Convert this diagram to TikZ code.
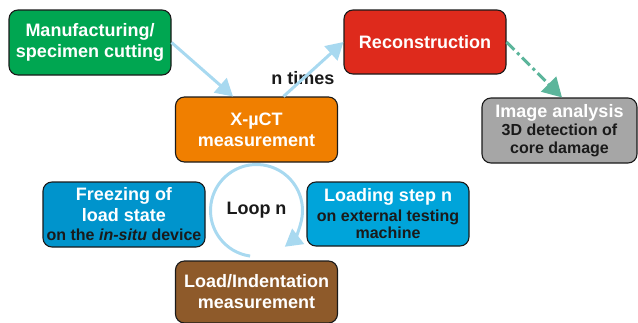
\documentclass[tikz,border=0pt]{standalone}
\usepackage{fontspec}
\setmainfont{Liberation Sans}
\usetikzlibrary{arrows.meta,calc}
\definecolor{cgreen}{RGB}{0,166,81}
\definecolor{cred}{RGB}{222,42,28}
\definecolor{corange}{RGB}{240,127,0}
\definecolor{cgray}{RGB}{166,166,166}
\definecolor{cblueA}{RGB}{0,148,204}
\definecolor{cblueB}{RGB}{0,164,218}
\definecolor{cbrown}{RGB}{142,90,42}
\definecolor{lblue}{RGB}{168,217,240}
\definecolor{cteal}{RGB}{92,181,155}
\definecolor{ink}{RGB}{26,26,26}
\newcommand\subtxt[1]{{\color{ink}#1}}
\tikzset{
  box/.style={draw=ink, line width=1.1pt, rounded corners=9pt, minimum width=162pt,
    minimum height=65pt, inner sep=0pt, align=center, text=white,
    font=\bfseries\fontsize{18}{21}\selectfont},
  flow/.style={draw=lblue, line width=3pt, -{Triangle[length=17pt,width=19pt]}},
  dashflow/.style={draw=cteal, line width=3pt, dash pattern=on 11pt off 4pt on 3pt off 4pt,
    -{Triangle[length=19pt,width=21pt]}},
  lbl/.style={text=ink, font=\bfseries\fontsize{18}{21}\selectfont, inner sep=0pt}
}
\begin{document}
\begin{tikzpicture}[x=1pt,y=-1pt]
\useasboundingbox (0,0) rectangle (638,322);
\node[box, fill=cgreen] (manu) at (90,42.5) {Manufacturing/\\specimen cutting};
\node[box, fill=cred, minimum height=64pt] (recon) at (425,42) {Reconstruction};
\node[box, fill=corange] (xct) at (256.5,129.5) {X-µCT\\measurement};
\node[box, fill=cgray, minimum width=155pt, font=\bfseries\fontsize{16}{18}\selectfont] (img) at (559.5,130.5)
  {{\fontsize{18}{21}\selectfont Image analysis}\\\subtxt{3D detection of}\\\subtxt{core damage}};
\node[box, fill=cblueA, font=\bfseries\fontsize{16}{19}\selectfont] (freeze) at (124,214.5)
  {{\fontsize{18}{21}\selectfont Freezing of}\\[2pt]{\fontsize{18}{21}\selectfont load state}\\\subtxt{on the \textit{in-situ} device}};
\node[box, fill=cblueB, minimum height=64pt, font=\bfseries\fontsize{16}{17}\selectfont] (loadstep) at (388,214)
  {{\fontsize{18}{21}\selectfont Loading step n}\\[3pt]\subtxt{on external testing}\\\subtxt{machine}};
\node[box, fill=cbrown, minimum height=62pt] (brown) at (256.5,292) {Load/Indentation\\measurement};
\node[lbl] (ntimes) at (303,78) {n times};
\node[lbl] (loop) at (256.5,210.5) {Loop n};
\draw[flow] (manu.east) -- ([xshift=-23.5pt]xct.north);
\draw[flow] ([xshift=27pt]xct.north) -- (recon.west);
\draw[dashflow] (recon.east) -- ([xshift=2.5pt]img.north);
\draw[flow] (loop.center) ++(262:46pt) arc[start angle=262, end angle=-52, radius=46pt];
\end{tikzpicture}
\end{document}
